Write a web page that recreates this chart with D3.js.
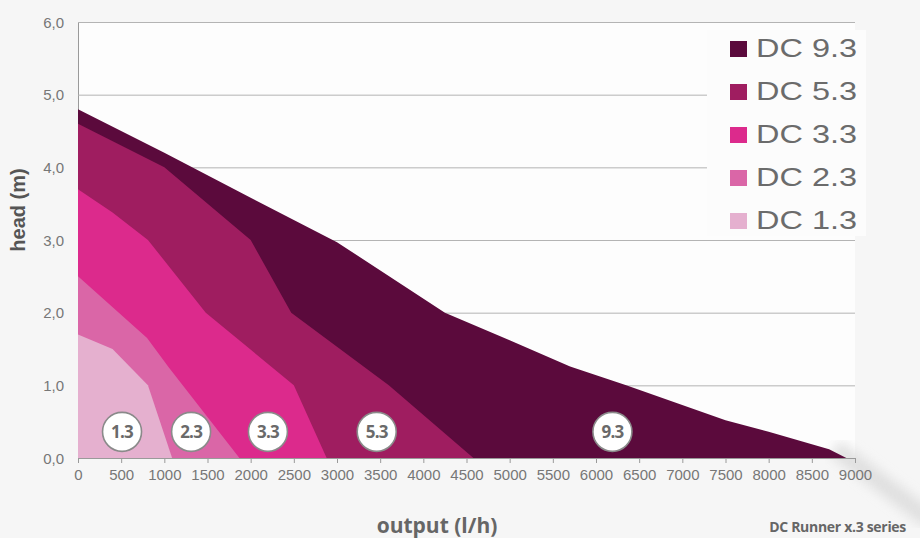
<!DOCTYPE html>
<html>
<head>
<meta charset="utf-8">
<script src="https://cdn.jsdelivr.net/npm/d3@7"></script>
<style>
  html, body { margin: 0; padding: 0; background: #f6f6f6; }
  svg { display: block; }
</style>
</head>
<body>
<svg id="chart" width="920" height="538"></svg>
<script>
// ---- data ----
const seriesNames = ["DC 9.3", "DC 5.3", "DC 3.3", "DC 2.3", "DC 1.3"];
const seriesColors = ["#5b0a3c", "#9f1d60", "#dc2a8c", "#da66a7", "#e5b0cf"];
const dc93 = [[0,4.8],[1000,4.2],[2000,3.58],[3000,2.97],[4250,2.0],[5000,1.62],[5700,1.26],[6350,1.0],[7500,0.52],[8000,0.36],[8700,0.12],[8900,0]];
const dc53 = [[0,4.6],[1000,4.0],[2000,3.0],[2470,2.0],[3600,1.0],[4580,0]];
const dc33 = [[0,3.7],[400,3.38],[810,3.0],[1480,2.0],[2500,1.0],[2880,0]];
const dc23 = [[0,2.5],[800,1.65],[1050,1.25],[1870,0]];
const dc13 = [[0,1.7],[400,1.5],[810,1.0],[1090,0]];
const seriesData = [dc93, dc53, dc33, dc23, dc13];
const badgeLabels = ["1.3", "2.3", "3.3", "5.3", "9.3"];
const badgeFlow = [510, 1310, 2200, 3460, 6190];
const badgeHead = 0.36;
const xTicks = [0,500,1000,1500,2000,2500,3000,3500,4000,4500,5000,5500,6000,6500,7000,7500,8000,8500,9000];
const yTicks = [0,1,2,3,4,5,6];
const xTitle = "output (l/h)";
const yTitle = "head (m)";
const footer = "DC Runner x.3 series";

// ---- layout ----
const svg = d3.select("#chart");
const x = d3.scaleLinear().domain([0, 9000]).range([78, 855]);
const y = d3.scaleLinear().domain([0, 6]).range([458, 22]);
const locale = d3.formatLocale({decimal: ",", thousands: ".", grouping: [3], currency: ["", ""]});
const fmtY = locale.format(".1f");

// background
const defs = svg.append("defs");
defs.append("filter").attr("id", "blur").append("feGaussianBlur").attr("stdDeviation", 6);
svg.append("rect").attr("width", 920).attr("height", 538).attr("fill", "#f6f6f6");
svg.append("rect").attr("x", x(0)).attr("y", y(6)).attr("width", x(9000) - x(0)).attr("height", y(0) - y(6)).attr("fill", "#fdfdfd");
svg.append("path").attr("d", "M835,448 L930,520").attr("stroke", "#dadada").attr("stroke-width", 18)
   .attr("filter", "url(#blur)").attr("opacity", 0.8);

// gridlines + y labels
const yAxis = d3.axisLeft(y).tickValues(yTicks).tickFormat(fmtY)
  .tickSizeInner(-(x(9000) - x(0))).tickSizeOuter(0).tickPadding(14);
const gy = svg.append("g").attr("transform", `translate(${x(0)},0)`).call(yAxis);
gy.select(".domain").attr("stroke", "#9a9a9a");
gy.selectAll(".tick line").attr("stroke", "#b4b4b4");
gy.selectAll(".tick text").attr("fill", "#777").style("font-family", "'Liberation Sans', Arial, sans-serif")
  .style("font-size", "15px").attr("dy", "0.35em");

// areas
const area = d3.area().x(d => x(d[0])).y0(y(0)).y1(d => y(d[1])).curve(d3.curveLinear);
svg.append("g").selectAll("path").data(seriesData).join("path")
  .attr("d", area).attr("fill", (d, i) => seriesColors[i]);

// x axis
const xAxis = d3.axisBottom(x).tickValues(xTicks).tickFormat(d => String(d)).tickSizeInner(5).tickSizeOuter(0).tickPadding(6);
const gx = svg.append("g").attr("transform", `translate(0,${y(0)})`).call(xAxis);
gx.select(".domain").attr("stroke", "#9a9a9a");
gx.selectAll(".tick line").attr("stroke", "#9a9a9a");
gx.selectAll(".tick text").attr("fill", "#777").style("font-family", "'Liberation Sans', Arial, sans-serif").style("font-size", "15px");

// badges
const badges = svg.append("g").selectAll("g").data(badgeLabels).join("g")
  .attr("transform", (d, i) => `translate(${x(badgeFlow[i])},${y(badgeHead)})`);
badges.append("circle").attr("r", 19.5).attr("fill", "#fff").attr("stroke", "#8a8a8a").attr("stroke-width", 1.6);
badges.append("text").text(d => d).attr("text-anchor", "middle").attr("dy", "0.36em")
  .attr("fill", "#6a6a6a").style("font-family", "'Open Sans', sans-serif").style("font-weight", "bold")
  .style("font-size", "17px").style("letter-spacing", "-0.8px");

// legend
svg.append("rect").attr("x", 707).attr("y", 30).attr("width", 159).attr("height", 206).attr("fill", "#fcfcfc");
const leg = svg.append("g").selectAll("g").data(seriesNames).join("g")
  .attr("transform", (d, i) => `translate(730,${57 + i * 43})`);
leg.append("rect").attr("x", 0).attr("y", -16).attr("width", 17).attr("height", 16).attr("fill", (d, i) => seriesColors[i]);
leg.append("text").text(d => d).attr("x", 26).attr("y", 0).attr("fill", "#6b6b6b")
  .style("font-family", "'Liberation Sans', Arial, sans-serif").style("font-size", "26px")
  .attr("textLength", 101).attr("lengthAdjust", "spacingAndGlyphs");

// titles
svg.append("text").text(yTitle).attr("transform", "translate(25,210) rotate(-90)").attr("text-anchor", "middle")
  .attr("fill", "#555").style("font-family", "'Liberation Sans', Arial, sans-serif").style("font-weight", "bold").style("font-size", "20px");
svg.append("text").text(xTitle).attr("x", 437).attr("y", 533).attr("text-anchor", "middle")
  .attr("fill", "#666").style("font-family", "'Open Sans', sans-serif").style("font-weight", "bold").style("font-size", "21px");
svg.append("text").text(footer).attr("x", 906).attr("y", 532).attr("text-anchor", "end")
  .attr("fill", "#666").style("font-family", "'Open Sans', sans-serif").style("font-weight", "bold").style("font-size", "14px")
  .style("letter-spacing", "-0.3px");
</script>
</body>
</html>
